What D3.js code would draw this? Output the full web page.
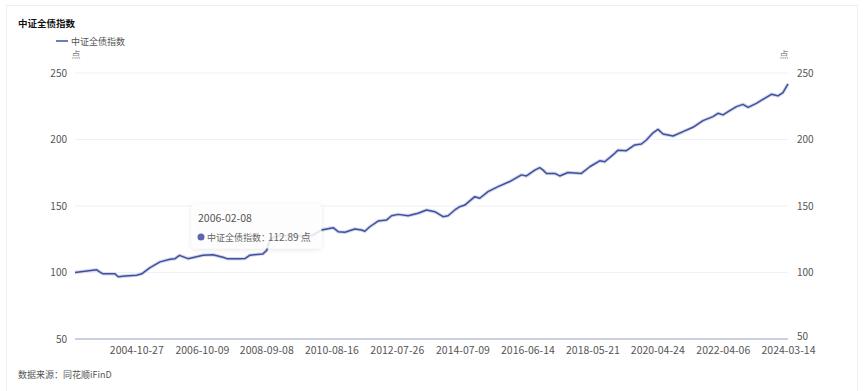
<!DOCTYPE html>
<html><head><meta charset="utf-8">
<script src="https://cdn.jsdelivr.net/npm/d3@7/dist/d3.min.js"></script>
<style>
html,body{margin:0;padding:0;background:#fff;}
svg{display:block;font-family:"Noto Sans CJK SC","Noto Sans",sans-serif;}
</style></head><body>
<svg id="c" width="865" height="391"></svg>
<script>
const title = "中证全债指数";
const seriesName = "中证全债指数";
const unit = "点";
const source = "数据来源：同花顺iFinD";
const dates = ["2002-12-31","2003-04-18","2003-08-24","2003-09-28","2003-10-31","2004-03-09","2004-04-14","2004-06-26","2004-10-31","2004-12-25",
"2005-03-25","2005-07-12","2005-10-28","2005-12-22","2006-02-08","2006-05-12","2006-10-21","2007-02-06","2007-05-26","2007-07-08",
"2007-11-27","2008-01-20","2008-03-14","2008-08-02","2008-09-11","2008-10-17","2008-12-11","2009-05-22","2009-10-31","2010-01-26",
"2010-05-01","2010-09-04","2010-10-28","2011-01-09","2011-04-27","2011-07-09","2011-08-14","2011-10-07","2012-01-05","2012-04-05",
"2012-05-30","2012-08-09","2012-11-26","2013-03-14","2013-06-14","2013-09-12","2013-12-11","2014-02-03","2014-04-17","2014-06-10",
"2014-08-04","2014-11-20","2015-01-13","2015-04-13","2015-07-31","2015-12-05","2016-04-10","2016-06-03","2016-09-02","2016-10-26",
"2016-12-01","2017-01-07","2017-04-07","2017-05-31","2017-08-29","2018-01-21","2018-04-22","2018-08-08","2018-10-02","2019-01-18",
"2019-02-23","2019-05-25","2019-08-23","2019-11-04","2019-12-28","2020-03-09","2020-05-02","2020-06-26","2020-10-12","2021-01-29",
"2021-05-17","2021-09-03","2021-12-20","2022-02-13","2022-04-08","2022-06-20","2022-09-01","2022-11-11","2023-01-05","2023-04-06",
"2023-07-05","2023-09-16","2023-10-22","2023-11-26","2024-01-19","2024-03-14"];
const values = [100,101,102,100.3,99,99,96.8,97.3,98,99,
103.6,108,110,110.4,112.89,110.4,113,113.3,111.5,110.4,
110.4,110.5,113,114,116.5,125,127,128,127,128,
132,133.7,130.7,130.2,132.7,132,131,134.4,138.7,139.4,
142.7,143.7,142.7,144.5,147,145.7,142,142.7,147,149.5,
150.7,157,155.8,160.8,164.6,168.4,173.4,172.6,177,178.8,
177,174.5,174.5,172.6,175.2,174.5,179.5,184,183.3,189.6,
192,191.6,195.9,196.6,199.6,205,207.6,204.1,202.6,205.9,
209.2,214.2,217.2,219.7,218.5,221.7,224.7,226.4,224.2,227.2,
231,234,233.5,232.8,235.2,241.8];
const xTickLabels = ["2004-10-27","2006-10-09","2008-09-08","2010-08-16","2012-07-26","2014-07-09","2016-06-14","2018-05-21","2020-04-24","2022-04-06","2024-03-14"];
const yTicks = [50,100,150,200,250];
const tooltipDate = "2006-02-08";
const tooltipValue = 112.89;

const parse = d3.timeParse("%Y-%m-%d");
const data = dates.map((d,i)=>({date:parse(d), value:values[i]}));
const svg = d3.select("#c");
const L = 75, R = 788, T = 73, B = 339;

svg.append("rect").attr("x",6.5).attr("y",5.5).attr("width",851).attr("height",400)
  .attr("fill","none").attr("stroke","#eceef8");

const x = d3.scaleTime().domain([parse(dates[0]), parse(dates[dates.length-1])]).range([L,R]);
const y = d3.scaleLinear().domain([50,250]).range([B,T]);

// grid
svg.append("g").selectAll("line").data(yTicks.filter(v=>v>50)).join("line")
  .attr("x1",L).attr("x2",R).attr("y1",d=>y(d)).attr("y2",d=>y(d))
  .attr("stroke","#eef0fa").attr("stroke-width",1);

const tickFont = 10;
// left axis
const yl = svg.append("g").attr("transform",`translate(${L-8},0)`)
  .call(d3.axisLeft(y).tickValues(yTicks).tickSize(0).tickPadding(0));
yl.select(".domain").remove();
yl.selectAll("text").attr("font-size",tickFont).attr("fill","#555").attr("font-family","'Noto Sans CJK SC',sans-serif");
// right axis
const yr = svg.append("g").attr("transform",`translate(${R+9},0)`)
  .call(d3.axisRight(y).tickValues(yTicks).tickSize(0).tickPadding(0));
yr.select(".domain").remove();
yr.selectAll("text").attr("font-size",tickFont).attr("fill","#555").attr("font-family","'Noto Sans CJK SC',sans-serif")
  .attr("dy",d=>d===50?"0em":"0.32em");

// bottom axis
const xa = svg.append("g").attr("transform",`translate(0,${B})`)
  .call(d3.axisBottom(x).tickValues(xTickLabels.map(parse)).tickFormat(d3.timeFormat("%Y-%m-%d")).tickSize(0).tickPadding(8));
xa.select(".domain").attr("stroke","#b9bfdb").attr("stroke-width",1.5).attr("d",`M${L},0H${R}`);
xa.selectAll("text").attr("font-size",10.5).attr("fill","#555").attr("font-family","'Noto Sans CJK SC',sans-serif");

// unit labels
svg.append("text").attr("x",76).attr("y",58).attr("text-anchor","middle").attr("font-size",9).attr("fill","#888").text(unit);
svg.append("text").attr("x",784).attr("y",58).attr("text-anchor","middle").attr("font-size",9).attr("fill","#888").text(unit);

// line
const line = d3.line().x(d=>x(d.date)).y(d=>y(d.value)).curve(d3.curveLinear);
svg.append("path").datum(data).attr("d",line).attr("fill","none")
  .attr("stroke","#d6d8e4").attr("stroke-width",3.5).attr("stroke-linejoin","round");
svg.append("path").datum(data).attr("d",line).attr("fill","none")
  .attr("stroke","#3e4fa6").attr("stroke-width",1.5).attr("stroke-linejoin","round");

// title & legend
svg.append("text").attr("x",18).attr("y",27).attr("font-size",9.5).attr("font-weight","bold").attr("fill","#111").text(title);
svg.append("line").attr("x1",56).attr("x2",68).attr("y1",41).attr("y2",41).attr("stroke","#3e4fa6").attr("stroke-width",1.5);
svg.append("text").attr("x",71).attr("y",44.5).attr("font-size",9).attr("fill","#555").text(seriesName);

// source
svg.append("text").attr("x",18).attr("y",378).attr("font-size",9).attr("fill","#555").text(source);

// tooltip
const tt = svg.append("g");
const defs = svg.append("defs");
const f = defs.append("filter").attr("id","sh").attr("x","-20%").attr("y","-20%").attr("width","140%").attr("height","160%");
f.append("feDropShadow").attr("dx",0).attr("dy",1).attr("stdDeviation",2.5).attr("flood-color","#000").attr("flood-opacity",0.12);
tt.append("rect").attr("x",191.5).attr("y",204.5).attr("width",130).attr("height",44).attr("rx",4)
  .attr("fill","#fff").attr("fill-opacity",0.85).attr("filter","url(#sh)");
tt.append("text").attr("x",198).attr("y",222).attr("font-size",10.5).attr("fill","#555").text(tooltipDate);
tt.append("circle").attr("cx",201).attr("cy",237).attr("r",3.5).attr("fill","#5a67ad");
tt.append("text").attr("x",207).attr("y",240.5).attr("font-size",9).attr("fill","#666").text(seriesName+"：");
tt.append("text").attr("x",268).attr("y",240.5).attr("font-size",10).attr("fill","#666").text(tooltipValue.toFixed(2)+" "+unit);
</script>
</body></html>
